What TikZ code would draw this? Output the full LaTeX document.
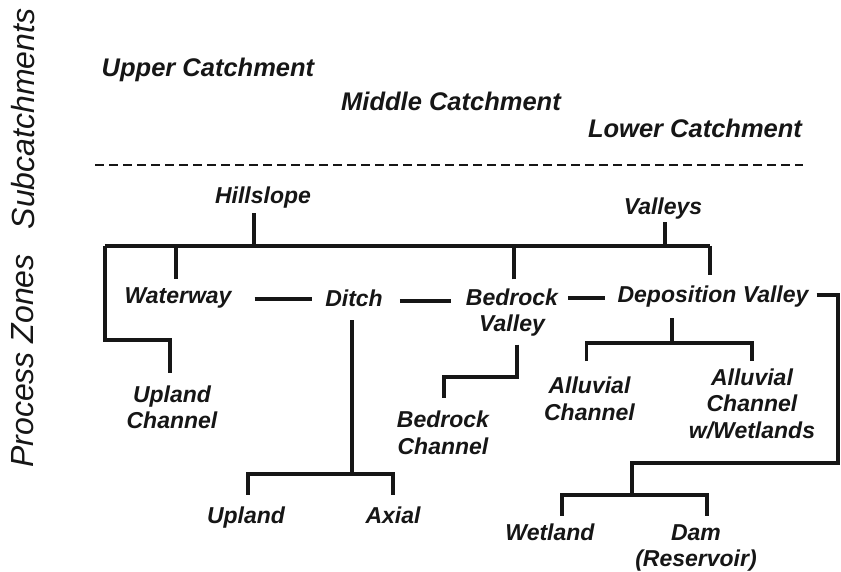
\documentclass[tikz,border=0pt]{standalone}
\usepackage{fontspec}
\setmainfont{Liberation Sans}
\usetikzlibrary{calc}
\definecolor{ink}{HTML}{161616}
\tikzset{
  lbl/.style={inner sep=0pt, text=ink, font=\fontsize{23}{26.5}\selectfont\bfseries\itshape, align=center},
  one/.style={lbl, text height=17pt, text depth=5pt},
  head/.style={inner sep=0pt, text=ink, font=\fontsize{25.5}{28}\selectfont\bfseries\itshape},
  side/.style={inner sep=0pt, text=ink, rotate=90, font=\fontsize{32}{34}\selectfont\itshape},
  conn/.style={draw=ink, line width=3.2pt, line cap=butt, line join=miter},
  dashline/.style={draw=ink, line width=2.4pt, dash pattern=on 9pt off 5pt}
}
\begin{document}
\begin{tikzpicture}[x=1pt,y=-1pt]
\useasboundingbox[fill=white] (0,0) rectangle (841,572);
% side titles
\node[side] (sub) at (23,119) {Subcatchments};
\node[side] (proc) at (23,361) {Process Zones};
% headers
\node[head] (upper) at (208,70) {Upper Catchment};
\node[head] (middle) at (451,101) {Middle Catchment};
\node[head] (lower) at (695,128) {Lower Catchment};
\coordinate (dl1) at (95,165);
\coordinate (dl2) at (803,165);
\draw[dashline] (dl1) -- (dl2);
% nodes
\node[one] (hill) at (263,198) {Hillslope};
\node[one] (val) at (663,209) {Valleys};
\node[one] (ww) at (178,297) {Waterway};
\node[one] (ditch) at (354,300) {Ditch};
\node[lbl] (bv) at (512,312.5) {Bedrock\\Valley};
\node[one] (dv) at (713,296) {Deposition Valley};
\node[lbl] (uc) at (172,407.5) {Upland\\Channel};
\node[lbl] (bc) at (443,433) {Bedrock\\Channel};
\node[lbl] (ac) at (589.5,399) {Alluvial\\Channel};
\node[lbl] (acw) at (752,403.5) {Alluvial\\Channel\\w/Wetlands};
\node[one] (up) at (246,517) {Upland};
\node[one] (ax) at (393,517) {Axial};
\node[one] (wl) at (550,534) {Wetland};
\node[lbl] (dam) at (696,548) {Dam\\(Reservoir)};
% main bus
\coordinate (bus1) at (105,246);
\coordinate (bus2) at (710,246);
\draw[conn] (bus1) -- (bus2);
\coordinate (hs) at ($(hill.south)+(-9,4)$);
\coordinate (vs) at ($(val.south)+(2,2)$);
\coordinate (wn) at ($(ww.north)+(-2,-7)$);
\coordinate (bn) at ($(bv.north)+(2,-9)$);
\coordinate (dn) at ($(dv.north)+(-3,-10)$);
\draw[conn] (hs) -- (hs |- bus1);
\draw[conn] (vs) -- (vs |- bus1);
\draw[conn] (wn) -- (wn |- bus1);
\draw[conn] (bn) -- (bn |- bus1);
\draw[conn] (bus2) -- (bus2 |- dn);
\coordinate (lc) at (105,340);
\coordinate (un) at ($(uc.north)+(-2,-13)$);
\draw[conn] (bus1) -- (lc) -| (un);
% horizontal chain
\coordinate (we) at ($(ww.east)+(23,2)$);
\coordinate (dwst) at ($(ditch.west)+(-13,0)$);
\draw[conn] (we) -- (we -| dwst);
\coordinate (de) at ($(ditch.east)+(17,1)$);
\coordinate (bw) at ($(bv.west)+(-15,0)$);
\draw[conn] (de) -- (de -| bw);
\coordinate (dw) at ($(dv.west)+(-12,2)$);
\coordinate (be) at ($(bv.east)+(10,0)$);
\draw[conn] (be |- dw) -- (dw);
% deposition valley right branch
\coordinate (rc) at (838,463);
\coordinate (wbus) at (632,495);
\draw[conn] ($(dv.east)+(8,-1)$) -| (rc) -| (wbus);
\draw[conn] ($(wl.north)+(12,-7)$) |- (wbus) -| ($(dam.north)+(11,-8)$);
% ditch children
\coordinate (dbus) at (352,474);
\draw[conn] ($(ditch.south)+(-2,9)$) -- (dbus);
\draw[conn] ($(up.north)+(2,-11)$) |- (dbus) -| ($(ax.north)+(0,-11)$);
% deposition children
\coordinate (pbus) at (672,343);
\draw[conn] ($(dv.south)+(-41,11)$) -- (pbus);
\draw[conn] ($(ac.north)+(-3,-16)$) |- (pbus) -| ($(acw.north)+(0,-7)$);
% bedrock child
\coordinate (bk) at (517,377);
\draw[conn] ($(bv.south)+(5,8)$) -- (bk) -| ($(bc.north)+(1,-13)$);
\end{tikzpicture}
\end{document}
